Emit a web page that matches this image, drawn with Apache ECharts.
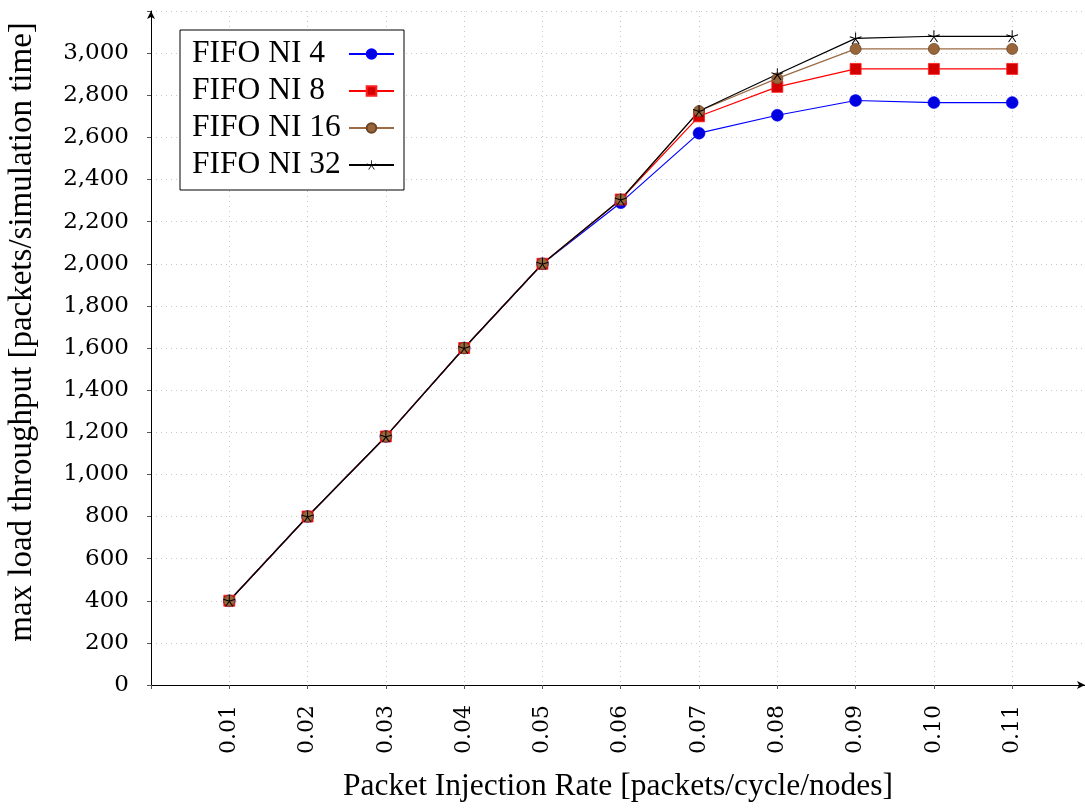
<!DOCTYPE html>
<html>
<head>
<meta charset="utf-8">
<script src="https://cdn.jsdelivr.net/npm/echarts@6/dist/echarts.min.js"></script>
<style>
  html, body { margin: 0; padding: 0; background: #fff; }
  #chart { width: 1085px; height: 809px; }
</style>
</head>
<body>
<div id="chart"></div>
<script>
// injection rates (x) and throughput values
const rates = [0.01, 0.02, 0.03, 0.04, 0.05, 0.06, 0.07, 0.08, 0.09, 0.10, 0.11];
const fifo4 = [400, 800, 1180, 1600, 2000, 2290, 2620, 2705, 2775, 2765, 2765];
const fifo8 = [400, 800, 1180, 1600, 2000, 2305, 2700, 2840, 2925, 2925, 2925];
const fifo16 = [400, 800, 1180, 1600, 2000, 2305, 2725, 2880, 3020, 3020, 3020];
const fifo32 = [400, 800, 1180, 1600, 2000, 2305, 2725, 2900, 3070, 3080, 3080];
const seriesNames = ['FIFO NI 4', 'FIFO NI 8', 'FIFO NI 16', 'FIFO NI 32'];

const serif = '"Liberation Serif", "DejaVu Serif", serif';
const tickFont = '"DejaVu Serif", serif';

// pgfplots-like star: five thin spokes
function starPath() {
  let d = '';
  const w = 4;
  for (let k = 0; k < 5; k++) {
    const a = Math.PI / 2 + k * 2 * Math.PI / 5;
    const dx = Math.cos(a), dy = -Math.sin(a);
    const px = -dy * w, py = dx * w;
    const pts = [
      [50 + px, 50 + py], [50 + dx * 50 + px, 50 + dy * 50 + py],
      [50 + dx * 50 - px, 50 + dy * 50 - py], [50 - px, 50 - py]
    ];
    d += 'M' + pts.map(p => p[0].toFixed(2) + ' ' + p[1].toFixed(2)).join(' L') + ' Z ';
  }
  return 'path://' + d;
}

function pairs(vals) {
  return rates.map((r, i) => [r, vals[i]]);
}

const chart = echarts.init(document.getElementById('chart'));
chart.setOption({
  animation: false,
  grid: { left: 151, right: 0, top: 11, bottom: 124, containLabel: false, outerBoundsMode: 'none' },
  legend: {
    orient: 'vertical',
    left: 180,
    top: 30,
    align: 'right',
    backgroundColor: '#fff',
    borderColor: '#000',
    borderWidth: 1,
    borderRadius: 0,
    padding: [8, 9, 9, 12],
    itemWidth: 45,
    itemHeight: 12,
    itemGap: 5,
    formatter: '{t|{name}}',
    textStyle: {
      fontFamily: serif, fontSize: 31.5, color: '#000', lineHeight: 30,
      rich: { t: { fontFamily: serif, fontSize: 31.5, color: '#000', width: 152, align: 'left', lineHeight: 30 } }
    },
    data: seriesNames
  },
  xAxis: {
    type: 'value',
    min: 0,
    max: 0.1193,
    interval: 0.01,
    name: 'Packet Injection Rate [packets/cycle/nodes]',
    nameLocation: 'middle',
    nameGap: 86,
    nameTextStyle: { fontFamily: serif, fontSize: 31.5, color: '#000' },
    axisLine: { show: true, onZero: false, lineStyle: { color: '#000', width: 1 }, symbol: ['none', 'arrow'], symbolSize: [6, 8] },
    axisTick: { show: true, length: 4, lineStyle: { color: '#555' } },
    axisLabel: {
      rotate: 90,
      margin: 20,
      fontFamily: tickFont,
      fontSize: 22,
      color: '#000',
      formatter: function (v) { return (v > 0.005 && v < 0.115) ? v.toFixed(2) : ''; }
    },
    splitLine: { show: true, lineStyle: { color: '#c8c8c8', type: [1, 4], width: 1 } }
  },
  yAxis: {
    type: 'value',
    min: 0,
    max: 3200,
    interval: 200,
    name: 'max load throughput [packets/simulation time]',
    nameLocation: 'middle',
    nameGap: 112,
    nameTextStyle: { fontFamily: serif, fontSize: 33, color: '#000', padding: [0, 0, 0, 32] },
    axisLine: { show: true, lineStyle: { color: '#000', width: 1 }, symbol: ['none', 'arrow'], symbolSize: [6, 8] },
    axisTick: { show: true, length: 4, lineStyle: { color: '#555' } },
    axisLabel: {
      margin: 22,
      fontFamily: tickFont,
      fontSize: 23,
      color: '#000',
      formatter: function (v) { return v <= 3000 ? v.toLocaleString('en-US') : ''; }
    },
    splitLine: { show: true, lineStyle: { color: '#c8c8c8', type: [1, 4], width: 1 } }
  },
  series: [
    {
      name: seriesNames[0], type: 'line', data: pairs(fifo4),
      symbol: 'circle', symbolSize: 12,
      lineStyle: { color: '#0000ff', width: 1.2 },
      itemStyle: { color: '#0000e0', borderColor: '#0000ff', borderWidth: 0.5 }
    },
    {
      name: seriesNames[1], type: 'line', data: pairs(fifo8),
      symbol: 'rect', symbolSize: 11,
      lineStyle: { color: '#ff0000', width: 1.2 },
      itemStyle: { color: '#d40000', borderColor: '#ff2020', borderWidth: 0.8 }
    },
    {
      name: seriesNames[2], type: 'line', data: pairs(fifo16),
      symbol: 'circle', symbolSize: 11,
      lineStyle: { color: '#9a6b45', width: 1.2 },
      itemStyle: { color: '#99663a', borderColor: '#6b4526', borderWidth: 0.8 }
    },
    {
      name: seriesNames[3], type: 'line', data: pairs(fifo32),
      symbol: starPath(), symbolSize: 12,
      lineStyle: { color: '#000', width: 1.2 },
      itemStyle: { color: '#000' }
    }
  ]
});
</script>
</body>
</html>
